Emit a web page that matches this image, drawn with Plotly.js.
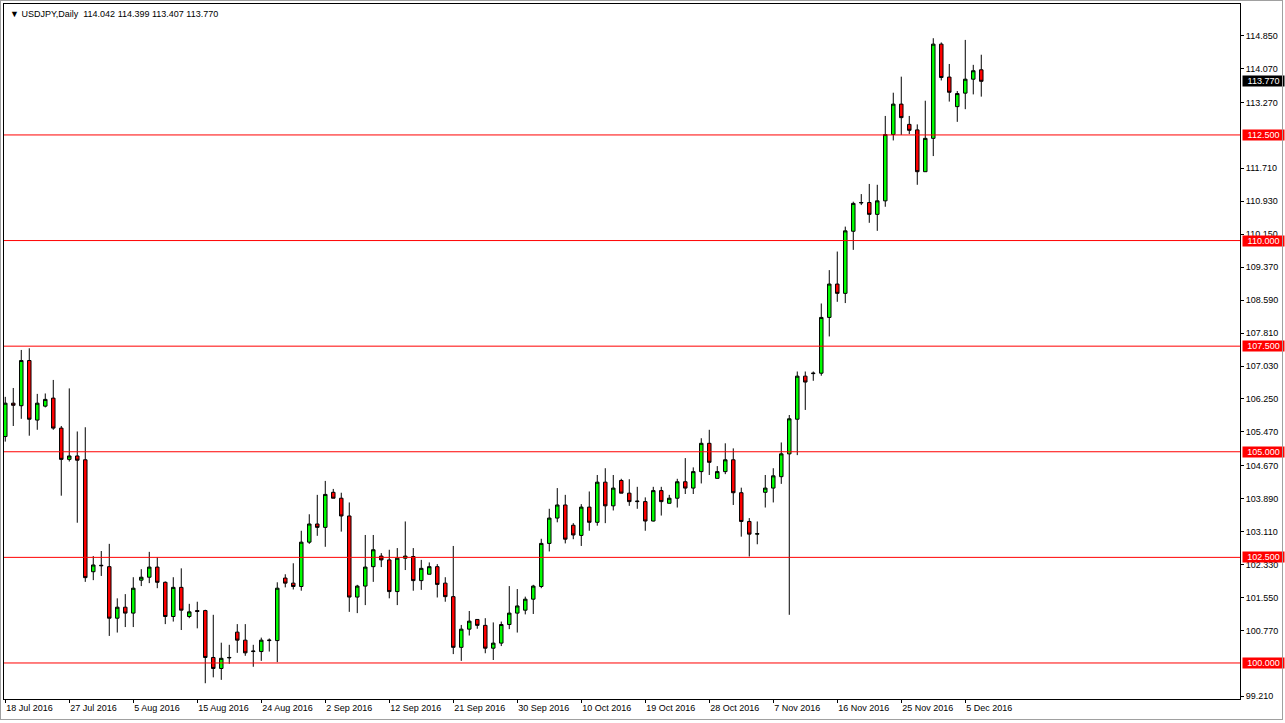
<!DOCTYPE html>
<html><head><meta charset="utf-8">
<script src="https://cdn.plot.ly/plotly-3.0.1.min.js"></script>
<style>
html,body{margin:0;padding:0;background:#fff;}
#wrap{position:relative;width:1285px;height:723px;overflow:hidden;}
#chart{position:absolute;left:0;top:0;width:1285px;height:723px;}
#frame{position:absolute;left:0;top:0;width:1281px;height:718px;border:1px solid #a0a0a0;pointer-events:none;}
</style></head><body>
<div id="wrap"><div id="chart"></div><div id="frame"></div></div>
<script>
const symbol = 'USDJPY,Daily';
const dates = [
'2016-07-18','2016-07-19','2016-07-20','2016-07-21','2016-07-22','2016-07-24',
'2016-07-25','2016-07-26','2016-07-27','2016-07-28','2016-07-29','2016-07-31',
'2016-08-01','2016-08-02','2016-08-03','2016-08-04','2016-08-05','2016-08-07',
'2016-08-08','2016-08-09','2016-08-10','2016-08-11','2016-08-12','2016-08-14',
'2016-08-15','2016-08-16','2016-08-17','2016-08-18','2016-08-19','2016-08-21',
'2016-08-22','2016-08-23','2016-08-24','2016-08-25','2016-08-26','2016-08-28',
'2016-08-29','2016-08-30','2016-08-31','2016-09-01','2016-09-02','2016-09-04',
'2016-09-05','2016-09-06','2016-09-07','2016-09-08','2016-09-09','2016-09-11',
'2016-09-12','2016-09-13','2016-09-14','2016-09-15','2016-09-16','2016-09-18',
'2016-09-19','2016-09-20','2016-09-21','2016-09-22','2016-09-23','2016-09-25',
'2016-09-26','2016-09-27','2016-09-28','2016-09-29','2016-09-30','2016-10-02',
'2016-10-03','2016-10-04','2016-10-05','2016-10-06','2016-10-07','2016-10-09',
'2016-10-10','2016-10-11','2016-10-12','2016-10-13','2016-10-14','2016-10-16',
'2016-10-17','2016-10-18','2016-10-19','2016-10-20','2016-10-21','2016-10-23',
'2016-10-24','2016-10-25','2016-10-26','2016-10-27','2016-10-28','2016-10-30',
'2016-10-31','2016-11-01','2016-11-02','2016-11-03','2016-11-04','2016-11-06',
'2016-11-07','2016-11-08','2016-11-09','2016-11-10','2016-11-11','2016-11-13',
'2016-11-14','2016-11-15','2016-11-16','2016-11-17','2016-11-18','2016-11-20',
'2016-11-21','2016-11-22','2016-11-23','2016-11-24','2016-11-25','2016-11-27',
'2016-11-28','2016-11-29','2016-11-30','2016-12-01','2016-12-02','2016-12-04',
'2016-12-05','2016-12-06','2016-12-07'
];
const open = [
105.36,106.15,106.09,107.16,105.75,106.08, 106.27,105.56,104.82,104.90,104.81,102.16,
102.30,102.28,101.06,101.32,101.18,101.96, 102.03,102.27,101.91,101.10,101.79,101.10,
101.24,101.24,100.13,99.87,100.12,100.73, 100.54,100.27,100.27,100.53,100.53,102.01,
101.89,101.81,102.86,103.29,103.21,104.04, 103.90,103.48,101.56,101.82,102.28,102.53,
102.44,101.69,102.48,102.52,101.95,102.10, 102.28,101.89,101.57,100.37,100.80,101.03,
100.89,100.35,100.47,100.91,101.18,101.25, 101.51,101.81,102.83,103.43,103.74,103.26,
103.02,103.69,103.33,104.28,103.72,104.32, 104.02,103.82,103.82,103.36,104.08,103.78,
103.90,104.29,104.14,104.53,105.20,104.37, 104.53,104.81,104.03,103.35,103.05,104.04,
104.14,104.41,104.95,105.77,106.79,106.85, 106.86,108.18,108.97,108.75,110.22,110.89,
110.90,110.62,110.94,112.51,113.23,112.75, 112.62,111.63,112.42,114.65,113.87,113.17,
113.49,113.82,114.042
];
const high = [
106.30,106.51,107.41,107.45,106.37,106.38, 106.70,105.61,106.50,105.48,105.58,102.53,
102.65,102.82,101.53,101.63,102.03,102.22, 102.63,102.50,101.93,102.03,102.24,101.40,
101.45,101.26,101.14,100.48,100.43,100.92, 100.92,100.43,100.60,100.58,101.91,102.10,
102.36,103.13,103.52,103.98,104.31,104.12, 104.03,103.80,101.85,103.03,103.03,102.60,
102.68,102.72,103.35,102.72,102.44,102.38, 102.34,102.03,102.77,100.90,101.23,101.03,
101.06,100.96,100.98,101.82,101.75,101.57, 101.85,102.94,103.65,104.14,103.98,103.31,
103.76,104.06,104.45,104.61,104.45,104.36, 104.35,104.17,103.92,104.17,104.17,103.98,
104.36,104.85,104.63,105.32,105.52,104.66, 105.20,105.08,104.15,103.43,103.35,104.45,
104.61,105.22,105.87,106.90,106.90,106.90, 108.51,109.30,109.74,110.33,110.92,111.10,
111.34,111.32,112.95,113.50,113.88,112.95, 112.75,113.31,114.79,114.69,114.18,113.54,
114.75,114.16,114.399
];
const low = [
105.24,105.61,105.78,105.38,105.52,106.05, 105.52,103.96,104.77,103.32,101.92,101.96,
102.06,100.64,100.72,100.85,100.85,101.82, 101.89,101.77,100.92,100.98,100.78,101.06,
100.82,99.52,99.66,99.60,99.98,100.24, 100.17,99.91,100.05,100.27,100.02,101.79,
101.74,101.71,102.82,103.01,102.75,103.90, 103.11,101.21,101.18,101.37,101.92,102.27,
101.53,101.37,102.20,101.71,101.73,102.10, 101.55,101.45,100.21,100.05,100.65,100.81,
100.23,100.07,100.40,100.80,100.72,101.15, 101.16,101.77,102.64,103.33,102.83,102.93,
102.77,103.13,103.25,103.31,103.61,104.02, 103.72,103.65,103.13,103.35,103.49,103.78,
103.68,104.00,104.00,104.25,104.45,104.37, 104.47,103.74,102.99,102.52,102.81,103.68,
103.80,104.24,101.14,104.92,105.99,106.68, 106.80,107.73,108.55,108.52,109.78,110.84,
110.42,110.23,110.80,112.37,112.50,112.52, 111.32,111.63,112.00,113.79,113.29,112.81,
113.11,113.46,113.407
];
const close = [
106.15,106.10,107.16,105.77,106.15,106.24, 105.56,104.82,104.90,104.80,102.02,102.32,
102.31,101.06,101.32,101.18,101.77,102.03, 102.27,101.91,101.10,101.79,101.25,101.21,
101.22,100.13,99.87,100.11,100.13,100.54, 100.24,100.28,100.54,100.54,101.77,101.89,
101.81,102.86,103.29,103.21,103.99,103.90, 103.48,101.56,101.82,102.27,102.68,102.44,
101.69,102.48,102.53,101.95,102.24,102.28, 101.86,101.57,100.37,100.80,100.99,100.89,
100.35,100.47,100.91,101.18,101.35,101.51, 101.82,102.83,103.43,103.74,102.93,103.03,
103.69,103.33,104.28,103.72,104.14,104.02, 103.82,103.83,103.36,104.08,103.82,103.90,
104.29,104.14,104.53,105.20,104.75,104.53, 104.81,104.03,103.35,103.05,103.06,104.14,
104.43,104.95,105.78,106.79,106.65,106.86, 108.18,108.97,108.75,110.23,110.88,110.90,
110.62,110.94,112.51,113.23,112.91,112.61, 111.63,112.42,114.65,113.86,113.51,113.48,
113.82,114.02,113.770
];
const tickDates = ['2016-07-18','2016-07-27','2016-08-05','2016-08-15','2016-08-24','2016-09-02',
'2016-09-12','2016-09-21','2016-09-30','2016-10-10','2016-10-19','2016-10-28','2016-11-07',
'2016-11-16','2016-11-25','2016-12-05'];
const tickText = ['18 Jul 2016','27 Jul 2016','5 Aug 2016','15 Aug 2016','24 Aug 2016','2 Sep 2016',
'12 Sep 2016','21 Sep 2016','30 Sep 2016','10 Oct 2016','19 Oct 2016','28 Oct 2016','7 Nov 2016',
'16 Nov 2016','25 Nov 2016','5 Dec 2016'];
const priceTicks = [114.85,114.07,113.27,111.71,110.93,110.15,109.37,108.59,107.81,107.03,106.25,
105.47,104.67,103.89,103.11,102.33,101.55,100.77,99.21];
const levels = [100, 102.5, 105, 107.5, 110, 112.5];

const FONT = 'Liberation Sans, Arial, sans-serif';
const n = close.length - 1;
const headerText = '\u25BC ' + symbol + '  ' +
  [open[n], high[n], low[n], close[n]].map(v => v.toFixed(3)).join(' ');

const trace = {
  type: 'candlestick', x: dates, open: open, high: high, low: low, close: close,
  increasing: {line: {color: '#000000', width: 1}, fillcolor: '#00ff00'},
  decreasing: {line: {color: '#000000', width: 1}, fillcolor: '#ff0000'},
  whiskerwidth: 0, hoverinfo: 'skip', showlegend: false
};

const shapes = levels.map(v => ({
  type: 'line', xref: 'paper', x0: 0, x1: 1, yref: 'y', y0: v, y1: v,
  line: {color: '#ff0000', width: 1}, layer: 'above'
}));

const annotations = levels.map(v => ({
  xref: 'paper', x: 1, xanchor: 'left', xshift: 2, yref: 'y', y: v, yanchor: 'middle',
  text: v.toFixed(3), showarrow: false, bgcolor: '#ff0000', borderpad: 0,
  width: 41, height: 10, align: 'center', font: {family: FONT, size: 9, color: '#ffffff'}
}));
annotations.push({
  xref: 'paper', x: 1, xanchor: 'left', xshift: 2, yref: 'y', y: close[n], yanchor: 'middle',
  text: close[n].toFixed(3), showarrow: false, bgcolor: '#000000', borderpad: 0,
  width: 41, height: 10, align: 'center', font: {family: FONT, size: 9, color: '#ffffff'}
});
annotations.push({
  xref: 'paper', x: 0, xanchor: 'left', xshift: 4, yref: 'paper', y: 1, yanchor: 'top', yshift: -3,
  text: headerText, showarrow: false, font: {family: FONT, size: 9, color: '#000000'}
});

const layout = {
  width: 1285, height: 723,
  margin: {l: 4, r: 45, t: 4, b: 24, pad: 0},
  paper_bgcolor: '#ffffff', plot_bgcolor: '#ffffff',
  showlegend: false, hovermode: false, dragmode: false,
  boxgap: 0.38,
  font: {family: FONT, size: 9, color: '#000000'},
  xaxis: {
    type: 'category', range: [-0.16, 154.34], tickvals: tickDates, ticktext: tickText,
    ticks: 'outside', ticklen: 3, tickcolor: '#000000', tickwidth: 1,
    ticklabelposition: 'outside right',
    showline: true, mirror: true, linecolor: '#000000', linewidth: 1,
    showgrid: false, zeroline: false, fixedrange: true,
    rangeslider: {visible: false}, tickfont: {family: FONT, size: 9, color: '#000000'}
  },
  yaxis: {
    side: 'right', range: [99.147, 115.60], tickvals: priceTicks,
    ticktext: priceTicks.map(v => v.toFixed(3)),
    ticks: 'outside', ticklen: 3, tickcolor: '#000000', tickwidth: 1,
    showline: true, mirror: true, linecolor: '#000000', linewidth: 1,
    showgrid: false, zeroline: false, fixedrange: true,
    tickfont: {family: FONT, size: 9, color: '#000000'}
  },
  shapes: shapes,
  annotations: annotations
};

Plotly.newPlot('chart', [trace], layout, {staticPlot: true, displayModeBar: false});
</script></body></html>
